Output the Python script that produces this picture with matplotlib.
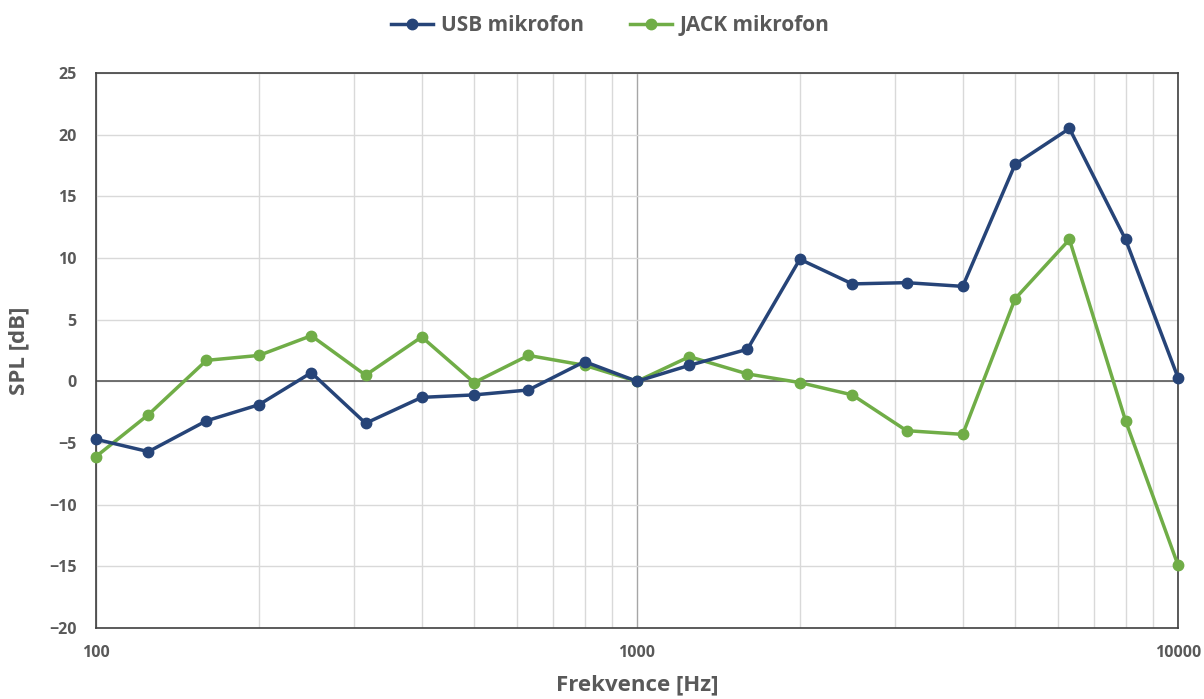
import matplotlib
matplotlib.use("Agg")
import matplotlib.pyplot as plt
from matplotlib.ticker import FixedLocator, LogLocator, NullFormatter, FixedFormatter

freq = [100, 125, 160, 200, 250, 315, 400, 500, 630, 800, 1000, 1250, 1600,
        2000, 2500, 3150, 4000, 5000, 6300, 8000, 10000]
usb = [-4.7, -5.7, -3.2, -1.9, 0.7, -3.4, -1.3, -1.1, -0.7, 1.6, 0.0, 1.3, 2.6,
       9.9, 7.9, 8.0, 7.7, 17.6, 20.5, 11.5, 0.3]
jack = [-6.1, -2.7, 1.7, 2.1, 3.7, 0.5, 3.6, -0.1, 2.1, 1.3, 0.0, 2.0, 0.6,
        -0.1, -1.1, -4.0, -4.3, 6.7, 11.5, -3.2, -14.9]
series_names = ["USB mikrofon", "JACK mikrofon"]
yticks = [-20, -15, -10, -5, 0, 5, 10, 15, 20, 25]
xticks = [100, 1000, 10000]

plt.rcParams['font.family'] = ['Open Sans', 'DejaVu Sans']
fig = plt.figure(figsize=(12.04, 6.99), dpi=100)
ax = fig.add_axes([96/1204, 1 - 628/699, (1178-96)/1204, (628-73)/699])

blue = "#264478"
green = "#70AD47"
ax.plot(freq, usb, color=blue, lw=2.5, marker='o', ms=7.5, label=series_names[0], zorder=4,
        clip_on=False)
ax.plot(freq, jack, color=green, lw=2.5, marker='o', ms=7.5, label=series_names[1], zorder=3,
        clip_on=False)

ax.set_xscale('log')
ax.set_xlim(100, 10000)
ax.set_ylim(-20, 25)
ax.xaxis.set_major_locator(FixedLocator(xticks))
ax.xaxis.set_major_formatter(FixedFormatter([str(t) for t in xticks]))
ax.xaxis.set_minor_locator(LogLocator(base=10, subs=range(2, 10)))
ax.xaxis.set_minor_formatter(NullFormatter())
ax.set_yticks(yticks)

ax.grid(which='minor', axis='x', color='#d9d9d9', lw=1)
ax.grid(which='major', axis='x', color='#a6a6a6', lw=1)
ax.grid(which='major', axis='y', color='#d9d9d9', lw=1)
ax.axhline(0, color='#595959', lw=1.2, zorder=2)
ax.set_axisbelow(True)

for s in ax.spines.values():
    s.set_color('#404040')
    s.set_linewidth(1.2)

ax.tick_params(which='both', length=0)
ax.tick_params(axis='y', pad=14)
ax.tick_params(axis='x', pad=12)
for lab in ax.get_xticklabels() + ax.get_yticklabels():
    lab.set_fontsize(11.5)
    lab.set_fontweight('bold')
    lab.set_color('#595959')

ax.set_xlabel("Frekvence [Hz]", fontsize=16, fontweight='bold', color='#595959', labelpad=10)
ax.set_ylabel("SPL [dB]", fontsize=16, fontweight='bold', color='#595959', labelpad=14)

leg = fig.legend(loc='upper center', bbox_to_anchor=(0.507, 1.005), ncol=2, frameon=False,
                 prop={'size': 15, 'weight': 'bold'}, handlelength=2.0, columnspacing=2.2,
                 handletextpad=0.4)
for t in leg.get_texts():
    t.set_color('#595959')

fig.savefig("out.png", dpi=100)
